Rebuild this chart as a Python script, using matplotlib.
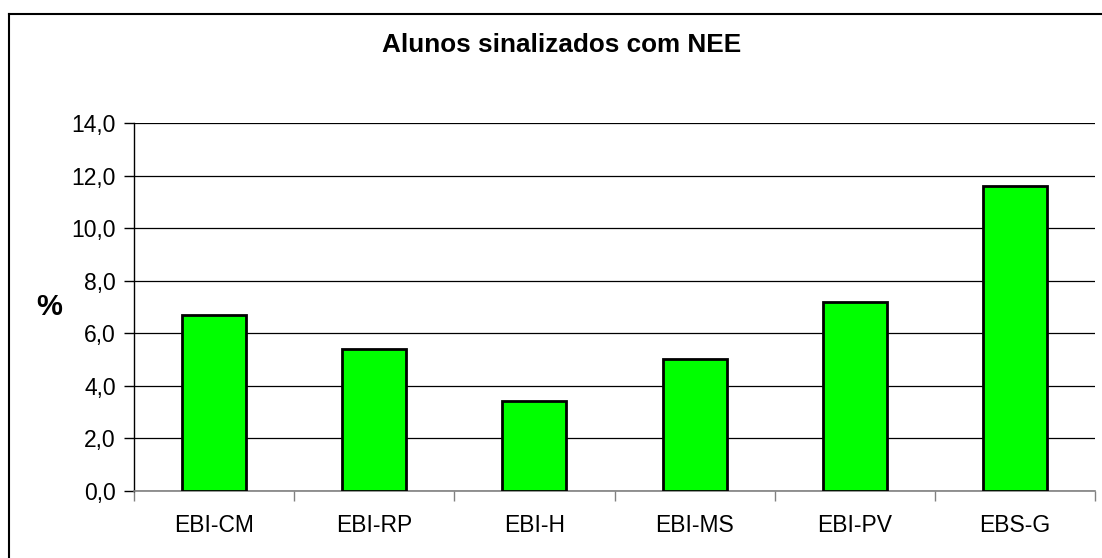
import numpy as np
import matplotlib.pyplot as plt
from matplotlib.lines import Line2D

plt.rcParams['font.family'] = ['Liberation Sans', 'DejaVu Sans']

# data
escolas = ["EBI-CM", "EBI-RP", "EBI-H", "EBI-MS", "EBI-PV", "EBS-G"]
percentagens = [6.7, 5.4, 3.4, 5.0, 7.2, 11.6]
y_ticks = [0, 2, 4, 6, 8, 10, 12, 14]

W, H = 1102, 558
fig = plt.figure(figsize=(W / 100, H / 100), dpi=100)
ax = fig.add_axes([134 / W, 1 - 490.7 / H, (1095 - 134) / W, (490.7 - 123) / H])

x = np.arange(len(escolas)) + 0.5
ax.bar(x, percentagens, width=0.4, color="#00ff00", edgecolor="black",
       linewidth=2, zorder=3)

ax.set_xlim(0, len(escolas))
ax.set_ylim(0, 14)
ax.set_yticks(y_ticks)
ax.set_yticklabels([f"{v:.1f}".replace(".", ",") for v in y_ticks], fontsize=16.5)
ax.yaxis.grid(True, color="black", linewidth=0.9, zorder=0)

# category boundaries as ticks, labels in the middle
ax.set_xticks(np.arange(len(escolas) + 1))
ax.set_xticklabels([])
ax.set_xticks(x, minor=True)
ax.set_xticklabels(escolas, minor=True, fontsize=16.5)
ax.tick_params(axis="x", which="minor", length=0, pad=17)
ax.tick_params(axis="x", which="major", length=7, width=1, color="#808080")
ax.tick_params(axis="y", length=7, width=1, pad=6)

for s in ["top", "right"]:
    ax.spines[s].set_visible(False)
ax.spines["bottom"].set_color("#808080")
ax.spines["bottom"].set_linewidth(1.2)
ax.spines["left"].set_color("black")
ax.spines["left"].set_linewidth(1)

fig.text(562 / W, 1 - 45 / H, "Alunos sinalizados com NEE", ha="center",
         va="center", fontsize=18.8, fontweight="bold")
fig.text(49 / W, 1 - 307 / H, "%", ha="center", va="center", fontsize=21,
         fontweight="bold")

# chart frame (partly cut off on right and bottom)
fig.add_artist(Line2D([8.5 / W, 1.0], [1 - 13.5 / H] * 2, color="black", linewidth=1.5))
fig.add_artist(Line2D([8.5 / W] * 2, [0, 1 - 13.5 / H], color="black", linewidth=1.5))

fig.savefig("out.png", dpi=100)
